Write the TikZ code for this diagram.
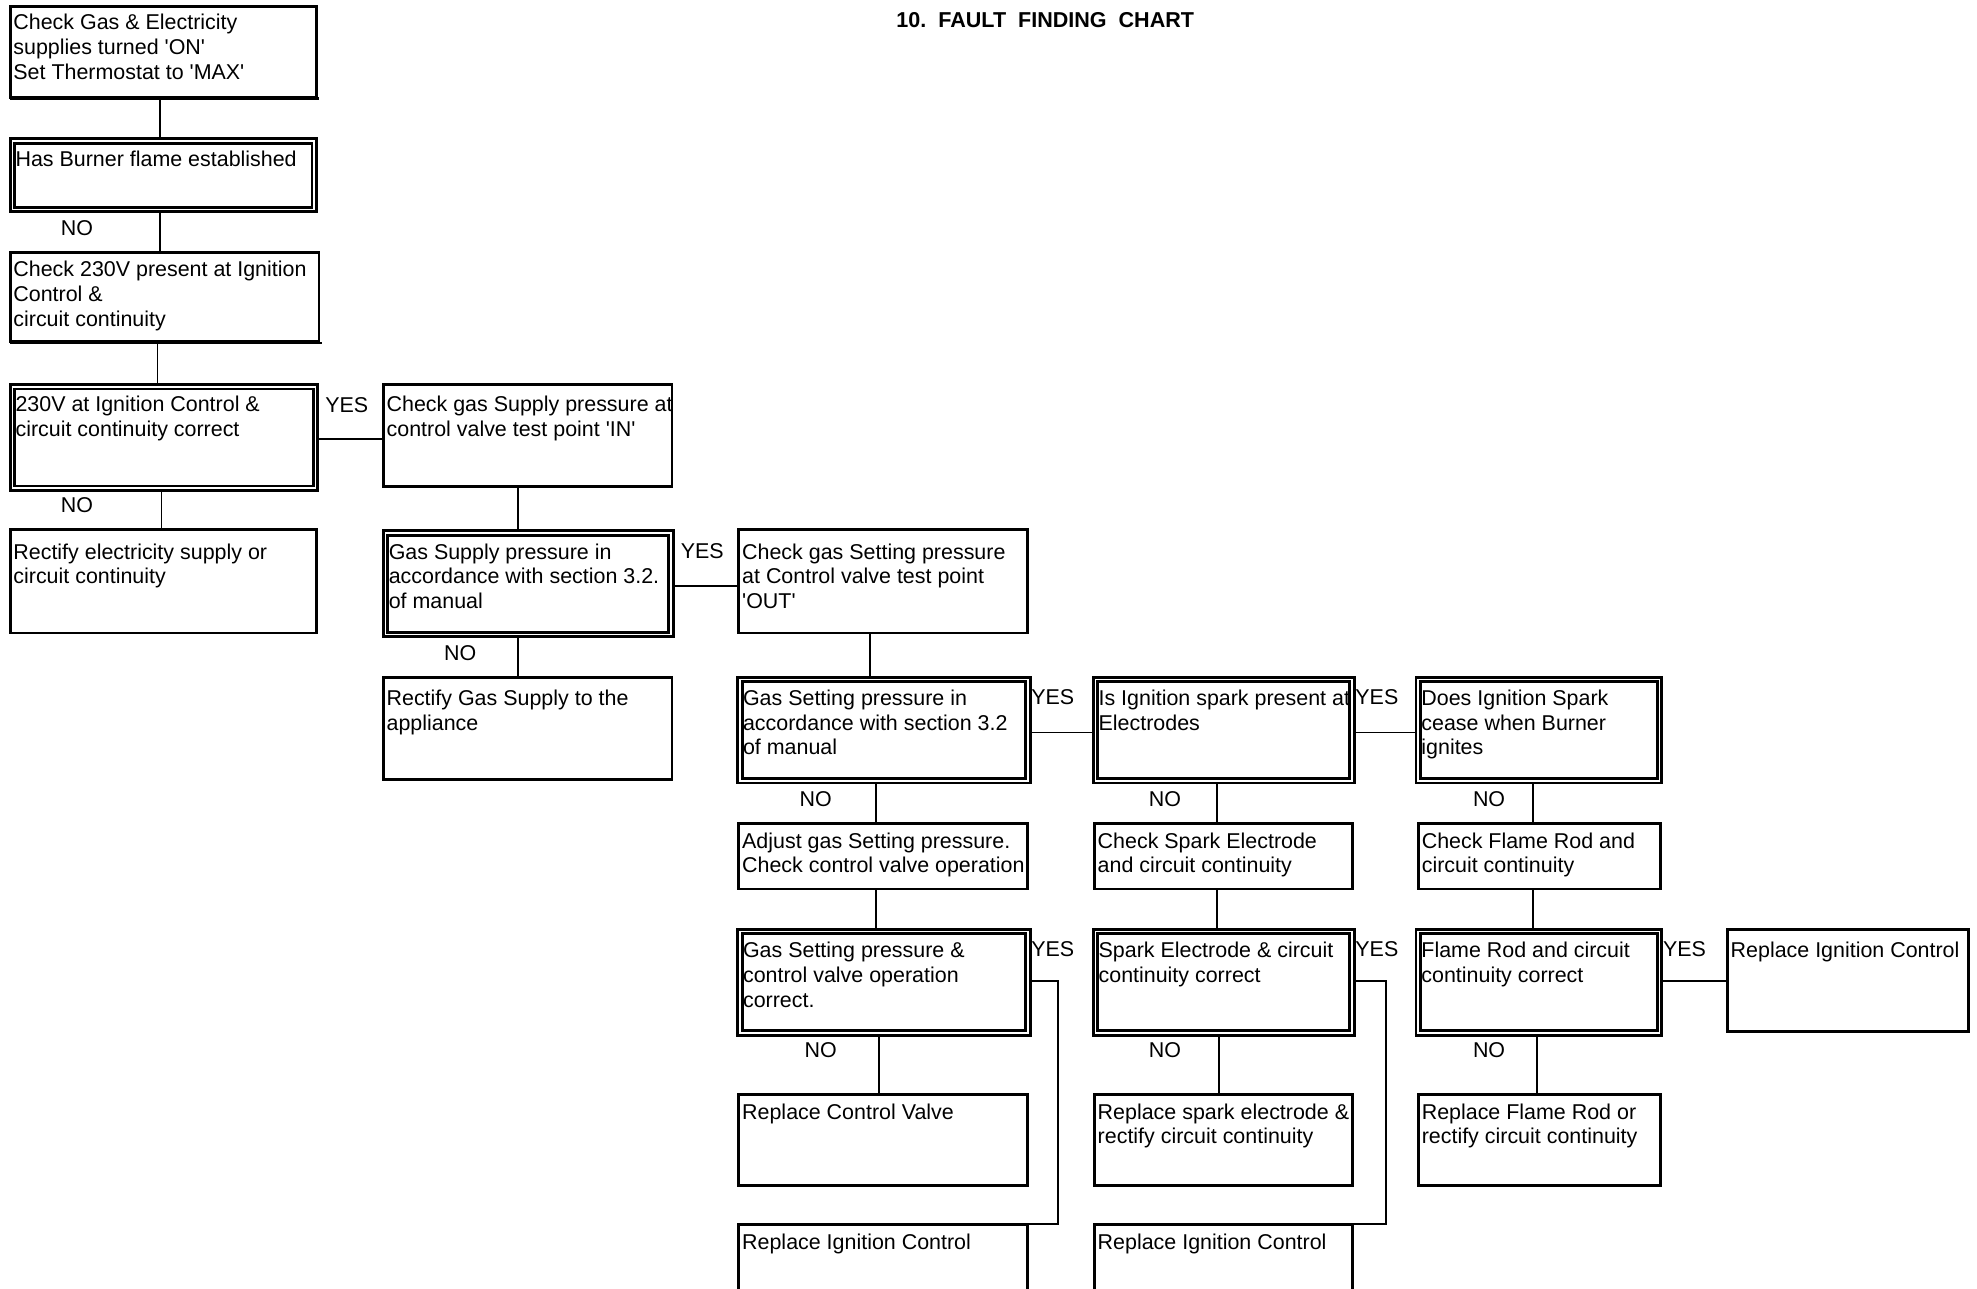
\documentclass[tikz,border=0pt]{standalone}
\usepackage{fontspec}
\setmainfont{Liberation Sans}
\newcommand{\sq}{\textquotesingle}
\tikzset{
  sglbox/.style={draw, line width=1.35pt, inner sep=0pt, outer sep=0pt},
  outerbox/.style={draw, line width=1.35pt, inner sep=0pt, outer sep=0pt},
  innerline/.style={line width=1.3pt},
  conn/.style={line width=0.8pt},
  txt/.style={font=\fontsize{10.2}{11.7}\selectfont, align=left, inner sep=0pt, anchor=north west},
  lbl/.style={font=\fontsize{10.2}{12}\selectfont, inner sep=0pt},
}
\newcommand{\sglbox}[7]{%
  \node[sglbox, minimum width={(#4-#2)*0.6pt}, minimum height={(#5-#3)*0.6pt}] (#1) at ({(#2+#4)/2},{(#3+#5)/2}) {};
  \node[txt] (#1-t) at ([shift={(2.3,#6)}]#1.north west) {#7};
}
\newcommand{\dblbox}[7]{%
  \node[outerbox, minimum width={(#4-#2)*0.6pt}, minimum height={(#5-#3)*0.6pt}] (#1) at ({(#2+#4)/2},{(#3+#5)/2}) {};
  \draw[innerline] ([shift={(3.6,3.6)}]#1.north west) rectangle ([shift={(-3.6,-3.6)}]#1.south east);
  \node[txt] (#1-t) at ([shift={(4.0,#6)}]#1.north west) {#7};
}
\begin{document}
\begin{tikzpicture}[x=0.6pt,y=-0.6pt]
\clip (0,0) rectangle (1568,1022);
\fill[white] (0,0) rectangle (1568,1022);

\node[font=\bfseries\fontsize{10.25}{12}\selectfont, inner sep=0pt] (title) at (829,16) {10.\ \ FAULT\ \ FINDING\ \ CHART};

% column 1
\sglbox{A}{8}{5}{251}{77}{6}{Check Gas \& Electricity\\supplies turned \sq ON\sq\\Set Thermostat to \sq MAX\sq}
\draw[line width=1.2pt] ([yshift=-0.7pt]A.south west) -- ([shift={(2,0)},yshift=-0.7pt]A.south east);
\dblbox{B}{8}{110}{251}{168}{9}{Has Burner flame established}
\sglbox{C}{8}{200}{253}{271}{7}{Check 230V present at Ignition\\Control \&\\circuit continuity}
\draw[line width=1.2pt] ([yshift=-0.7pt]C.south west) -- ([shift={(2,0)},yshift=-0.7pt]C.south east);
\dblbox{D}{8}{305}{252}{389}{9}{230V at Ignition Control \&\\circuit continuity correct}
\sglbox{E}{8}{420}{251}{502}{11}{Rectify electricity supply or\\circuit continuity}

% column 2
\sglbox{F}{304}{305}{533}{386}{9}{Check gas Supply pressure at\\control valve test point \sq IN\sq}
\dblbox{G}{304}{421}{534}{505}{10}{Gas Supply pressure in\\accordance with section 3.2.\\of manual}
\sglbox{H}{304}{537}{533}{618}{10}{Rectify Gas Supply to the\\appliance}

% column 3
\sglbox{I}{586}{420}{815}{502}{11}{Check gas Setting pressure\\at Control valve test point\\\sq OUT\sq}
\dblbox{J}{585}{537}{817}{621}{10}{Gas Setting pressure in\\accordance with section 3.2\\of manual}
\sglbox{M}{586}{653}{815}{705}{7}{Adjust gas Setting pressure.\\Check control valve operation}
\dblbox{P}{585}{737}{817}{821}{10}{Gas Setting pressure \&\\control valve operation\\correct.}
\sglbox{T}{586}{868}{815}{940}{7}{Replace Control Valve}
\sglbox{W}{586}{971}{815}{1040}{7}{Replace Ignition Control}

% column 4
\dblbox{K}{867}{537}{1074}{621}{10}{Is Ignition spark present at\\Electrodes}
\sglbox{N}{868}{653}{1073}{705}{7}{Check Spark Electrode\\and circuit continuity}
\dblbox{Q}{867}{737}{1074}{821}{10}{Spark Electrode \& circuit\\continuity correct}
\sglbox{U}{868}{868}{1073}{940}{7}{Replace spark electrode \&\\rectify circuit continuity}
\sglbox{X}{868}{971}{1073}{1040}{7}{Replace Ignition Control}

% column 5
\dblbox{L}{1123}{537}{1318}{621}{10}{Does Ignition Spark\\cease when Burner\\ignites}
\sglbox{O}{1125}{653}{1317}{705}{7}{Check Flame Rod and\\circuit continuity}
\dblbox{R}{1123}{737}{1318}{821}{10}{Flame Rod and circuit\\continuity correct}
\sglbox{V}{1125}{868}{1317}{940}{7}{Replace Flame Rod or\\rectify circuit continuity}

% column 6
\sglbox{S}{1370}{737}{1561}{818}{10}{Replace Ignition Control}

% vertical connectors
\draw[conn] (A.south -| 127,0) -- (B.north -| 127,0);
\draw[conn] (B.south -| 127,0) -- (C.north -| 127,0);
\draw[conn] (C.south -| 125,0) -- (D.north -| 125,0);
\draw[conn] (D.south -| 128,0) -- (E.north -| 128,0);
\draw[conn] (F.south -| 411,0) -- (G.north -| 411,0);
\draw[conn] (G.south -| 411,0) -- (H.north -| 411,0);
\draw[conn] (I.south -| 690,0) -- (J.north -| 690,0);
\draw[conn] (J.south -| 695,0) -- (M.north -| 695,0);
\draw[conn] (M.south -| 695,0) -- (P.north -| 695,0);
\draw[conn] (P.south -| 697,0) -- (T.north -| 697,0);
\draw[conn] (K.south -| 965,0) -- (N.north -| 965,0);
\draw[conn] (N.south -| 965,0) -- (Q.north -| 965,0);
\draw[conn] (Q.south -| 967,0) -- (U.north -| 967,0);
\draw[conn] (L.south -| 1216,0) -- (O.north -| 1216,0);
\draw[conn] (O.south -| 1216,0) -- (R.north -| 1216,0);
\draw[conn] (R.south -| 1219,0) -- (V.north -| 1219,0);

% horizontal connectors
\draw[conn] (D.east |- 0,348) -- (F.west |- 0,348);
\draw[conn] (G.east |- 0,465) -- (I.west |- 0,465);
\draw[conn] (J.east |- 0,581) -- (K.west |- 0,581);
\draw[conn] (K.east |- 0,581) -- (L.west |- 0,581);
\draw[conn] (R.east |- 0,778) -- (S.west |- 0,778);
\draw[conn] (P.east |- 0,778) -| (839,971) -- (W.north east);
\draw[conn] (Q.east |- 0,778) -| (1099,971) -- (X.north east);

% labels
\node[lbl] (no1) at (61,181) {NO};
\node[lbl] (no2) at (61,401) {NO};
\node[lbl] (no3) at (365,518) {NO};
\node[lbl] (no4) at (647,634) {NO};
\node[lbl] (no5) at (924,634) {NO};
\node[lbl] (no6) at (1181,634) {NO};
\node[lbl] (no7) at (651,833) {NO};
\node[lbl] (no8) at (924,833) {NO};
\node[lbl] (no9) at (1181,833) {NO};
\node[lbl] (yes1) at (275,321) {YES};
\node[lbl] (yes2) at (557,437) {YES};
\node[lbl] (yes3) at (835,553) {YES};
\node[lbl] (yes4) at (1092,553) {YES};
\node[lbl] (yes5) at (835,753) {YES};
\node[lbl] (yes6) at (1092,753) {YES};
\node[lbl] (yes7) at (1336,753) {YES};
\end{tikzpicture}
\end{document}
